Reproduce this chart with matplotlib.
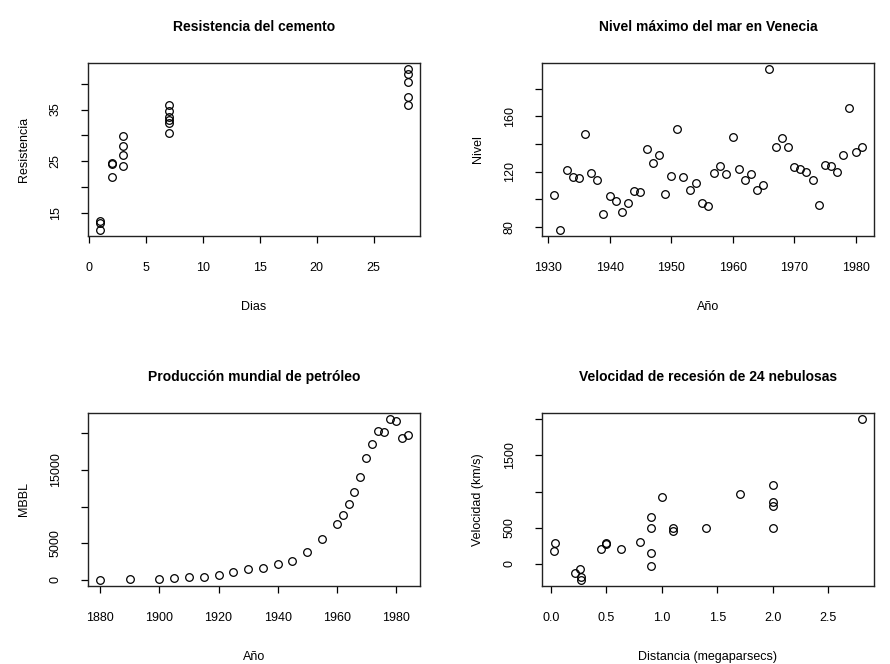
import matplotlib
matplotlib.use("Agg")
import matplotlib.pyplot as plt

plt.rcParams['font.family'] = ['Liberation Sans', 'DejaVu Sans']

# Resistencia del cemento
dias = [1, 1, 1, 2, 2, 2, 3, 3, 3, 3, 7, 7, 7, 7, 7, 7, 28, 28, 28, 28, 28]
resistencia = [13.0, 13.3, 11.7, 21.9, 24.5, 24.7, 24.1, 26.2, 28.0, 29.9,
               30.4, 32.3, 32.9, 33.6, 34.7, 35.8, 35.9, 37.5, 40.4, 41.9, 42.8]

# Nivel maximo del mar en Venecia
anios_venecia = list(range(1931, 1982))
nivel = [103, 78, 121, 116, 115, 147, 119, 114, 89, 102, 99, 91, 97, 106, 105,
         136, 126, 132, 104, 117, 151, 116, 107, 112, 97, 95, 119, 124, 118, 145,
         122, 114, 118, 107, 110, 194, 138, 144, 138, 123, 122, 120, 114, 96, 125,
         124, 120, 132, 166, 134, 138]

# Produccion mundial de petroleo
anios_petroleo = [1880, 1890, 1900, 1905, 1910, 1915, 1920, 1925, 1930, 1935,
                  1940, 1945, 1950, 1955, 1960, 1962, 1964, 1966, 1968, 1970,
                  1972, 1974, 1976, 1978, 1980, 1982, 1984]
mbbl = [30, 77, 149, 215, 328, 432, 689, 1069, 1412, 1655, 2150, 2595, 3803,
        5626, 7674, 8882, 10310, 12016, 14104, 16690, 18584, 20389, 20188,
        21922, 21722, 19411, 19837]

# Velocidad de recesion de nebulosas
distancia = [0.032, 0.034, 0.214, 0.263, 0.275, 0.275, 0.45, 0.5, 0.5, 0.63,
             0.8, 0.9, 0.9, 0.9, 0.9, 1.0, 1.1, 1.1, 1.4, 1.7, 2.0, 2.0, 2.0,
             2.0, 2.8]
velocidad = [170, 290, -130, -70, -185, -220, 200, 290, 270, 200, 300, -30,
             650, 150, 500, 920, 450, 500, 500, 960, 500, 850, 800, 1090, 2000]

fig = plt.figure(figsize=(8.9, 6.64), dpi=100)

izq, der = 88 / 890, 542 / 890
ancho = 332 / 890
arriba, abajo = 1 - 236 / 664, 1 - 586 / 664
alto = 173 / 664

paneles = [
    (izq, arriba, dias, resistencia, "Resistencia del cemento", "Dias", "Resistencia",
     [0, 5, 10, 15, 20, 25], ["0", "5", "10", "15", "20", "25"],
     [15, 20, 25, 30, 35, 40], ["15", "", "25", "", "35", ""]),
    (der, arriba, anios_venecia, nivel, "Nivel máximo del mar en Venecia", "Año", "Nivel",
     [1930, 1940, 1950, 1960, 1970, 1980], ["1930", "1940", "1950", "1960", "1970", "1980"],
     [80, 100, 120, 140, 160, 180], ["80", "", "120", "", "160", ""]),
    (izq, abajo, anios_petroleo, mbbl, "Producción mundial de petróleo", "Año", "MBBL",
     [1880, 1900, 1920, 1940, 1960, 1980], ["1880", "1900", "1920", "1940", "1960", "1980"],
     [0, 5000, 10000, 15000, 20000], ["0", "5000", "", "15000", ""]),
    (der, abajo, distancia, velocidad, "Velocidad de recesión de 24 nebulosas",
     "Distancia (megaparsecs)", "Velocidad (km/s)",
     [0.0, 0.5, 1.0, 1.5, 2.0, 2.5], ["0.0", "0.5", "1.0", "1.5", "2.0", "2.5"],
     [0, 500, 1000, 1500, 2000], ["0", "500", "", "1500", ""]),
]

for x0, y0, xs, ys, titulo, xlab, ylab, xt, xtl, yt, ytl in paneles:
    ax = fig.add_axes([x0, y0, ancho, alto])
    ax.plot(xs, ys, 'o', mfc='none', mec='black', ms=5.5, mew=0.9)
    ax.margins(0.04)
    ax.set_xticks(xt)
    ax.set_xticklabels(xtl)
    ax.set_yticks(yt)
    ax.set_yticklabels(ytl, rotation=90, va='center')
    ax.tick_params(direction='out', length=5, width=0.9, labelsize=9, pad=14)
    for s in ax.spines.values():
        s.set_linewidth(1.0)
        s.set_color('#222222')
    ax.set_title(titulo, fontsize=10, fontweight='bold', pad=23)
    ax.set_xlabel(xlab, fontsize=9, labelpad=19)
    ax.set_ylabel(ylab, fontsize=9, labelpad=14)

fig.savefig("out.png", dpi=100)
